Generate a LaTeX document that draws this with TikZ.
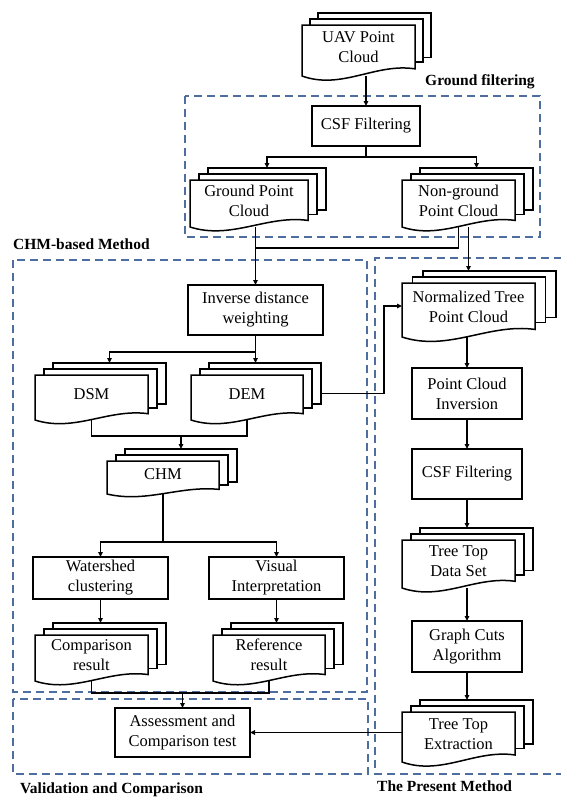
\documentclass[tikz,border=0pt]{standalone}
\usepackage{fontspec}
\setmainfont{Liberation Serif}
\usetikzlibrary{arrows.meta,calc}
\pgfdeclarelayer{bg}
\pgfsetlayers{bg,main}
\definecolor{grpblue}{RGB}{79,110,160}
\newcommand\fs{\fontsize{16.5}{20}\selectfont}
\newcommand\lblfs{\fontsize{15.5}{18}\selectfont\bfseries}
\tikzset{
 box/.style={draw, line width=1.5pt, fill=white, align=center, font=\fs, inner sep=0pt, outer sep=0pt},
 backdoc/.style={draw, line width=1.5pt, fill=white, inner sep=0pt, outer sep=0pt},
 docline/.style={draw, line width=1.5pt, fill=white, line join=miter},
 helper/.style={inner sep=0pt, outer sep=0pt},
 txt/.style={align=center, font=\fs, inner sep=0pt},
 conn/.style={line width=1.4pt},
 arr/.style={conn, -{Triangle[length=5pt,width=4.5pt]}},
 grp/.style={draw=grpblue, line width=1.5pt, dash pattern=on 8pt off 5pt},
 lbl/.style={font=\lblfs, inner sep=0pt},
}
% name, L, T, R, B, dx, text
\newcommand{\docstack}[7]{%
 \pgfmathsetmacro\dkw{#4-#2}%
 \pgfmathsetmacro\dkh{#5-#3}%
 \pgfmathsetmacro\dkA{0.64*\dkh+12}%
 \pgfmathsetmacro\dkB{0.73*\dkh+6}%
 \node[backdoc, anchor=north west, minimum width=\dkw pt, minimum height=\dkA pt] (#1t) at (#2+2*#6,#3-12) {};
 \node[backdoc, anchor=north west, minimum width=\dkw pt, minimum height=\dkB pt] (#1m) at (#2+#6,#3-6) {};
 \path[docline] (#2,#5) -- (#2,#3) -- (#4,#3) -- (#4,{#5-0.14*\dkh}) .. controls ({#2+0.65*\dkw},{#5-0.26*\dkh}) and ({#2+0.35*\dkw},{#5+0.28*\dkh}) .. (#2,#5) -- cycle;
 \node[helper, minimum width=\dkw pt, minimum height=\dkh pt] (#1) at ({(#2+#4)/2},{(#3+#5)/2}) {};
 \node[txt] (#1x) at ({(#2+#4)/2},{(#3+#5)/2-3}) {#7};
}
\begin{document}
\begin{tikzpicture}[x=1pt,y=-1pt]
\useasboundingbox (0,0) rectangle (560,798);
\begin{pgfonlayer}{bg}
\fill[white] (0,0) rectangle (560,798);
\end{pgfonlayer}

% documents
\docstack{uav}{302}{25}{415}{76}{8}{UAV Point\\Cloud}
\docstack{gpc}{190}{180}{308}{227}{9}{Ground Point\\Cloud}
\docstack{ngpc}{402}{180}{515}{227}{9}{Non-ground\\Point Cloud}
\docstack{dsm}{35}{375}{148}{420}{9}{DSM}
\docstack{dem}{191}{375}{303}{420}{9}{DEM}
\docstack{chm}{107}{461}{219}{494}{9}{CHM}
\docstack{norm}{402}{283}{535}{337}{10.5}{Normalized Tree\\Point Cloud}
\docstack{comp}{35}{635}{148}{681}{9}{Comparison\\result}
\docstack{ref}{213}{635}{325}{681}{9}{Reference\\result}
\docstack{ttds}{402}{540}{515}{588}{9}{Tree Top\\Data Set}
\docstack{tte}{402}{712}{515}{762}{9}{Tree Top\\Extraction}

% boxes
\node[box, minimum width=108pt, minimum height=40pt] (csf1) at (366,126) {CSF Filtering};
\node[box, minimum width=135pt, minimum height=50pt] (idw) at (255.5,310) {Inverse distance\\weighting};
\node[box, minimum width=135pt, minimum height=42pt] (ws) at (100.5,578) {Watershed\\clustering};
\node[box, minimum width=135pt, minimum height=42pt] (vi) at (276.5,578) {Visual\\Interpretation};
\node[box, minimum width=135pt, minimum height=49pt] (assess) at (182.5,732.5) {Assessment and\\Comparison test};
\node[box, minimum width=110pt, minimum height=51pt] (pci) at (467,393.5) {Point Cloud\\Inversion};
\node[box, minimum width=110pt, minimum height=50pt] (csf2) at (467,474) {CSF Filtering};
\node[box, minimum width=110pt, minimum height=51pt] (gc) at (467,646.5) {Graph Cuts\\Algorithm};

% labels
\node[lbl, anchor=west] (lgf) at (425,82) {Ground filtering};
\node[lbl, anchor=west] (lchm) at (13,244) {CHM-based Method};
\node[lbl, anchor=west] (lval) at (20,790) {Validation and Comparison};
\node[lbl, anchor=west] (lpm) at (377,786) {The Present Method};

\begin{pgfonlayer}{bg}
% group frames
\draw[grp] (185,96) rectangle (540,237);
\draw[grp] (13,260) rectangle (367,692);
\draw[grp] (13,699) rectangle (368,774);
\draw[grp] (562,258) -- (375,258) -- (375,774) -- (562,774);

% connectors
\draw[arr] (csf1.north |- uav.south) -- (csf1.north);
\draw[conn] (csf1.south) -- ++(0,11) coordinate (b1);
\draw[arr] (b1) -| (gpct.north);
\draw[arr] (b1) -| (ngpct.north);
\coordinate (j1) at (idw.north |- 0,248);
\draw[arr] (idw.north |- gpc.south) -- (idw.north);
\draw[conn] (ngpc.south) |- (j1);
\draw[arr] (norm.north |- ngpc.south) -- (norm.north |- normt.north);

\draw[conn] (idw.south) -- ++(0,17) coordinate (b2);
\draw[arr] (b2) -| (dsmt.north);
\draw[arr] (b2) -- (b2 |- demt.north);
\draw[arr] ([yshift=-10pt]demt.east) -| ($(norm.west)+(-18,-4)$) -- ([yshift=4pt]norm.west);

\path (chmt.north) ++(0,-13) coordinate (j2);
\draw[conn] (dsm.south) |- (j2);
\draw[conn] (dem.south) |- (j2);
\draw[arr] (j2) -- (chmt.north);

\path (chm.south) ++(0,48) coordinate (b3);
\draw[conn] (chm.south) -- (b3);
\draw[arr] (b3) -| (ws.north);
\draw[arr] (b3) -| (vi.north);
\draw[arr] (ws.south) -- (ws.south |- compt.north);
\draw[arr] (vi.south) -- (vi.south |- reft.north);

\path (assess.north) ++(0,-15) coordinate (j3);
\draw[conn] (comp.south) |- (j3);
\draw[conn] (ref.south) |- (j3);
\draw[arr] (j3) -- (assess.north);

\draw[arr] (pci.north |- norm.south) -- (pci.north);
\draw[arr] (pci.south) -- (csf2.north);
\draw[arr] (csf2.south) -- (csf2.south |- ttdst.north);
\draw[arr] (gc.north |- ttds.south) -- (gc.north);
\draw[arr] (gc.south) -- (gc.south |- ttet.north);
\draw[arr] (tte.west |- assess.east) -- (assess.east);
\end{pgfonlayer}
\end{tikzpicture}
\end{document}
